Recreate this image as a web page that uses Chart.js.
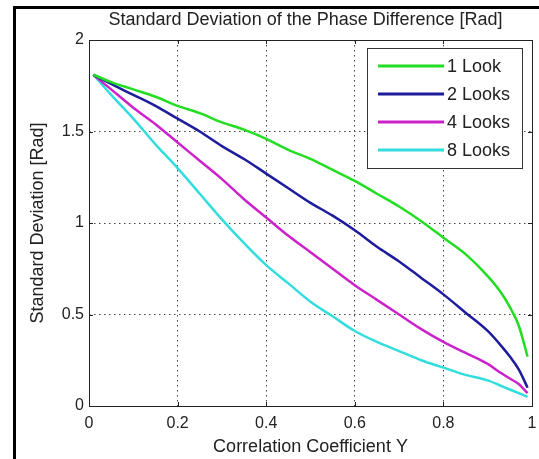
<!DOCTYPE html>
<html>
<head>
<meta charset="utf-8">
<script src="https://cdn.jsdelivr.net/npm/chart.js@4"></script>
<style>
  html, body { margin: 0; padding: 0; background: #fff; }
  #wrap { position: relative; width: 539px; height: 459px; }
</style>
</head>
<body>
<div id="wrap"><canvas id="chart" width="539" height="459"></canvas></div>
<script>
const titleText = 'Standard Deviation of the Phase Difference [Rad]';
const xTitle = 'Correlation Coefficient Y';
const yTitle = 'Standard Deviation [Rad]';

const xTicks = [0, 0.2, 0.4, 0.6, 0.8, 1];
const yTicks = [0, 0.5, 1, 1.5, 2];

const coherence = [0.01, 0.05, 0.1, 0.15, 0.2, 0.25, 0.3, 0.35, 0.4, 0.45, 0.5, 0.55,
                   0.6, 0.65, 0.7, 0.75, 0.8, 0.85, 0.9, 0.93, 0.95, 0.97, 0.99];

const look1 = [1.81, 1.77, 1.73, 1.69, 1.64, 1.60, 1.55, 1.51, 1.46, 1.40, 1.35, 1.29,
               1.23, 1.16, 1.09, 1.01, 0.92, 0.83, 0.71, 0.62, 0.54, 0.44, 0.27];
const looks2 = [1.81, 1.76, 1.70, 1.64, 1.57, 1.50, 1.42, 1.35, 1.27, 1.19, 1.11, 1.04,
                0.96, 0.87, 0.79, 0.70, 0.61, 0.51, 0.41, 0.33, 0.27, 0.20, 0.10];
const looks4 = [1.81, 1.73, 1.63, 1.54, 1.44, 1.34, 1.24, 1.13, 1.03, 0.93, 0.84, 0.75,
                0.66, 0.58, 0.50, 0.42, 0.35, 0.29, 0.23, 0.18, 0.15, 0.12, 0.07];
const looks8 = [1.81, 1.70, 1.57, 1.43, 1.30, 1.16, 1.02, 0.89, 0.77, 0.67, 0.57, 0.49,
                0.41, 0.35, 0.30, 0.25, 0.21, 0.17, 0.14, 0.11, 0.09, 0.07, 0.05];

const seriesNames = ['1 Look', '2 Looks', '4 Looks', '8 Looks'];
const seriesValues = [look1, looks2, looks4, looks8];
const seriesColors = ['#22dd22', '#1c1c9c', '#cc22cc', '#33dddd'];

const FONT = 'Arial, "Liberation Sans", Helvetica, sans-serif';

const toPoints = ys => coherence.map((x, i) => ({ x: x, y: ys[i] }));

// frame, title, box, inner ticks and legend (matlab look)
const decor = {
    id: 'decor',
    afterDraw(chart) {
        const ctx = chart.ctx;
        const a = chart.chartArea;
        ctx.save();

        // outer frame
        ctx.strokeStyle = '#000';
        ctx.lineWidth = 3;
        ctx.beginPath();
        ctx.moveTo(14.5, 459);
        ctx.lineTo(14.5, 7.5);
        ctx.lineTo(539, 7.5);
        ctx.stroke();

        // title
        ctx.fillStyle = '#222';
        ctx.font = '18px ' + FONT;
        ctx.textAlign = 'center';
        ctx.textBaseline = 'middle';
        ctx.fillText(titleText, (a.left + a.right) / 2 - 5, 20);

        // axes box
        ctx.lineWidth = 1;
        ctx.strokeStyle = '#222';
        ctx.strokeRect(Math.round(a.left) + 0.5, Math.round(a.top) + 0.5,
                       Math.round(a.right - a.left), Math.round(a.bottom - a.top));

        // short inward ticks
        const xs = chart.scales.x, ys = chart.scales.y;
        ctx.beginPath();
        xTicks.forEach(v => {
            const px = Math.round(xs.getPixelForValue(v)) + 0.5;
            ctx.moveTo(px, a.bottom); ctx.lineTo(px, a.bottom - 4);
            ctx.moveTo(px, a.top); ctx.lineTo(px, a.top + 4);
        });
        yTicks.forEach(v => {
            const py = Math.round(ys.getPixelForValue(v)) + 0.5;
            ctx.moveTo(a.left, py); ctx.lineTo(a.left + 4, py);
            ctx.moveTo(a.right, py); ctx.lineTo(a.right - 4, py);
        });
        ctx.stroke();

        // legend
        const lx = 367.5, ly = 48.5, lw = 155, lh = 120;
        ctx.fillStyle = '#fff';
        ctx.fillRect(lx, ly, lw, lh);
        ctx.strokeStyle = '#333';
        ctx.strokeRect(lx, ly, lw, lh);
        ctx.font = '18px ' + FONT;
        ctx.textAlign = 'left';
        ctx.textBaseline = 'middle';
        chart.data.datasets.forEach((ds, i) => {
            const y = 66 + i * 28;
            ctx.strokeStyle = ds.borderColor;
            ctx.lineWidth = 3;
            ctx.beginPath();
            ctx.moveTo(378, y);
            ctx.lineTo(444, y);
            ctx.stroke();
            ctx.fillStyle = '#222';
            ctx.fillText(ds.label, 447, y + 1);
        });
        ctx.restore();
    }
};

const ctx = document.getElementById('chart').getContext('2d');

var chart = new Chart(ctx, {
    type: 'line',
    data: {
        datasets: seriesNames.map((name, i) => ({
            label: name,
            data: toPoints(seriesValues[i]),
            borderColor: seriesColors[i],
            backgroundColor: seriesColors[i],
            borderWidth: 2.5,
            pointRadius: 0,
            cubicInterpolationMode: 'monotone',
            fill: false
        }))
    },
    plugins: [decor],
    options: {
        responsive: false,
        animation: false,
        events: [],
        layout: { padding: { left: 0, right: 7, top: 40, bottom: 0 } },
        plugins: {
            legend: { display: false },
            title: { display: false },
            tooltip: { enabled: false }
        },
        scales: {
            x: {
                type: 'linear',
                min: 0,
                max: 1,
                afterBuildTicks: s => { s.ticks = xTicks.map(v => ({ value: v })); },
                afterFit: s => {
                    s.height = 53;
                    s.paddingLeft = 0;
                    s.paddingRight = 0;
                },
                ticks: {
                    color: '#222',
                    font: { family: FONT, size: 16 },
                    padding: 8,
                    maxRotation: 0,
                    callback: v => String(v)
                },
                grid: {
                    color: '#444',
                    lineWidth: 1,
                    drawTicks: false
                },
                border: { display: false, dash: [1.5, 3.5] },
                title: {
                    display: true,
                    text: xTitle,
                    color: '#222',
                    font: { family: FONT, size: 18 },
                    padding: { top: 0, bottom: 1 }
                }
            },
            y: {
                type: 'linear',
                min: 0,
                max: 2,
                afterBuildTicks: s => { s.ticks = yTicks.map(v => ({ value: v })); },
                afterFit: s => {
                    s.width = 89;
                    s.paddingTop = 0;
                    s.paddingBottom = 0;
                },
                ticks: {
                    color: '#222',
                    font: { family: FONT, size: 16 },
                    padding: 5,
                    callback: v => String(v)
                },
                grid: {
                    color: '#444',
                    lineWidth: 1,
                    drawTicks: false
                },
                border: { display: false, dash: [1.5, 3.5] },
                title: {
                    display: true,
                    text: yTitle,
                    color: '#222',
                    font: { family: FONT, size: 18 },
                    padding: { top: 27, bottom: 0 }
                }
            }
        }
    }
});
</script>
</body>
</html>
